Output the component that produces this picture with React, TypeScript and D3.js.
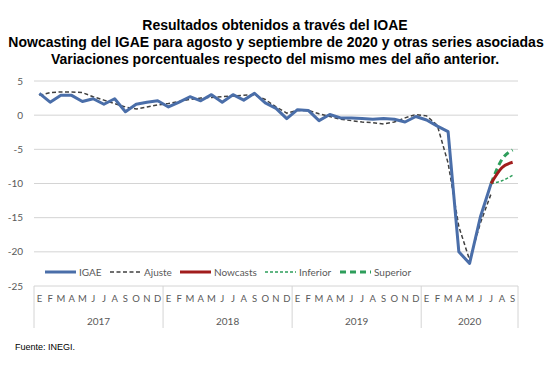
import * as d3 from 'd3';

const years = ['2017', '2018', '2019', '2020'];
const monthLetters = ['E', 'F', 'M', 'A', 'M', 'J', 'J', 'A', 'S', 'O', 'N', 'D'];
const monthsPerYear = [12, 12, 12, 9];

const igae = [
  3.2, 1.9, 2.9, 2.9, 2.0, 2.4, 1.6, 2.4, 0.5, 1.6, 1.9, 2.1,
  1.2, 1.9, 2.7, 2.1, 3.0, 1.9, 3.0, 2.2, 3.2, 1.8, 1.0, -0.5,
  0.8, 0.7, -0.8, 0.1, -0.4, -0.4, -0.5, -0.6, -0.5, -0.6, -1.0, -0.2,
  -0.7, -1.6, -2.4, -20.0, -21.7, -14.9, -10.0,
];
const ajuste = [
  2.9, 3.3, 3.4, 3.4, 3.3, 2.7, 2.2, 1.7, 1.2, 0.9, 1.2, 1.5,
  1.7, 2.0, 2.3, 2.5, 2.6, 2.7, 2.8, 2.9, 3.0, 2.3, 1.2, 0.3,
  0.7, 0.7, 0.2, -0.2, -0.6, -0.8, -1.0, -1.1, -1.3, -1.0, -0.4, 0.1,
  -0.1, -1.5, -7.0, -16.3, -21.2, -15.8, -11.5,
];
// forecast series start at July 2020 (index 42)
const nowcasts = [-10.0, -7.7, -6.9];
const inferior = [-10.0, -9.6, -8.8];
const superior = [-10.0, -6.5, -5.1];
const yTicks = [5, 0, -5, -10, -15, -20, -25];

const legendItems = [
  { label: 'IGAE', color: '#4a6ea9', width: 3, dash: '' , x: 45 },
  { label: 'Ajuste', color: '#404040', width: 1.5, dash: '4,2.5', x: 110 },
  { label: 'Nowcasts', color: '#a11c1c', width: 3, dash: '', x: 180 },
  { label: 'Inferior', color: '#2e9e5b', width: 1.5, dash: '3,2', x: 265 },
  { label: 'Superior', color: '#2e9e5b', width: 3, dash: '6,4', x: 340 },
];

const App = () => {
  const W = 552;
  const H = 369;
  const left = 34;
  const right = 518;
  const n = d3.sum(monthsPerYear);

  const x = d3.scaleBand<number>().domain(d3.range(n)).range([left, right]);
  const cx = (i: number) => (x(i) as number) + x.bandwidth() / 2;
  const y = d3.scaleLinear().domain([-25, 5]).range([286, 81]);

  const line = d3
    .line<number>()
    .x((_, i) => cx(i))
    .y(d => y(d));
  const fLine = d3
    .line<number>()
    .x((_, i) => cx(42 + i))
    .y(d => y(d))
    .curve(d3.curveMonotoneX);

  const months: { letter: string; i: number }[] = [];
  const yearStarts: number[] = [];
  let k = 0;
  monthsPerYear.forEach(m => {
    yearStarts.push(k);
    for (let j = 0; j < m; j++) months.push({ letter: monthLetters[j], i: k++ });
  });
  const boundaries = [...yearStarts.map(s => x(s) as number), right];

  const axisColor = '#d4d4d4';
  const textColor = '#595959';
  const font = 'Lato, "Liberation Sans", sans-serif';

  return (
    <svg
      width={W}
      height={H}
      style={{ position: 'absolute', left: 0, top: 0, background: '#fff' }}
    >
      <g fontFamily='"Liberation Sans", Arial, sans-serif' fontWeight="bold" fontSize={14} textAnchor="middle">
        <text x={275} y={30}>Resultados obtenidos a través del IOAE</text>
        <text x={276} y={47}>Nowcasting del IGAE para agosto y septiembre de 2020 y otras series asociadas</text>
        <text x={275} y={64}>Variaciones porcentuales respecto del mismo mes del año anterior.</text>
      </g>

      {yTicks.map(t => (
        <g key={t}>
          <line x1={left} x2={right} y1={y(t)} y2={y(t)} stroke={axisColor} strokeWidth={1} />
          <text x={23} y={y(t) + 3.5} textAnchor="end" fontSize={10} fill={textColor} fontFamily={font}>
            {t}
          </text>
        </g>
      ))}

      {boundaries.map((b, i) => (
        <line key={i} x1={b} x2={b} y1={y(-25)} y2={328} stroke={axisColor} strokeWidth={1} />
      ))}
      {months.map(m => (
        <text key={m.i} x={cx(m.i)} y={302} textAnchor="middle" fontSize={9.5} fill={textColor} fontFamily={font}>
          {m.letter}
        </text>
      ))}
      {years.map((yr, i) => (
        <text
          key={yr}
          x={(boundaries[i] + boundaries[i + 1]) / 2}
          y={325}
          textAnchor="middle"
          fontSize={10}
          fill={textColor}
          fontFamily={font}
        >
          {yr}
        </text>
      ))}

      <path d={line(ajuste) ?? ''} fill="none" stroke="#404040" strokeWidth={1.5} strokeDasharray="4,2.5" />
      <path d={line(igae) ?? ''} fill="none" stroke="#4a6ea9" strokeWidth={3} strokeLinejoin="round" />
      <path d={fLine(inferior) ?? ''} fill="none" stroke="#2e9e5b" strokeWidth={1.5} strokeDasharray="3,2" />
      <path d={fLine(superior) ?? ''} fill="none" stroke="#2e9e5b" strokeWidth={3} strokeDasharray="6,4" />
      <path d={fLine(nowcasts) ?? ''} fill="none" stroke="#a11c1c" strokeWidth={3} />

      {legendItems.map(l => (
        <g key={l.label}>
          <line
            x1={l.x}
            x2={l.x + 31}
            y1={272}
            y2={272}
            stroke={l.color}
            strokeWidth={l.width}
            strokeDasharray={l.dash || undefined}
          />
          <text x={l.x + 34} y={275.5} fontSize={10} fill={textColor} fontFamily={font}>
            {l.label}
          </text>
        </g>
      ))}

      <text x={15} y={350} fontSize={9} fontFamily='"Liberation Sans", Arial, sans-serif' fill="#000">
        Fuente: INEGI.
      </text>
    </svg>
  );
};

export default App;
